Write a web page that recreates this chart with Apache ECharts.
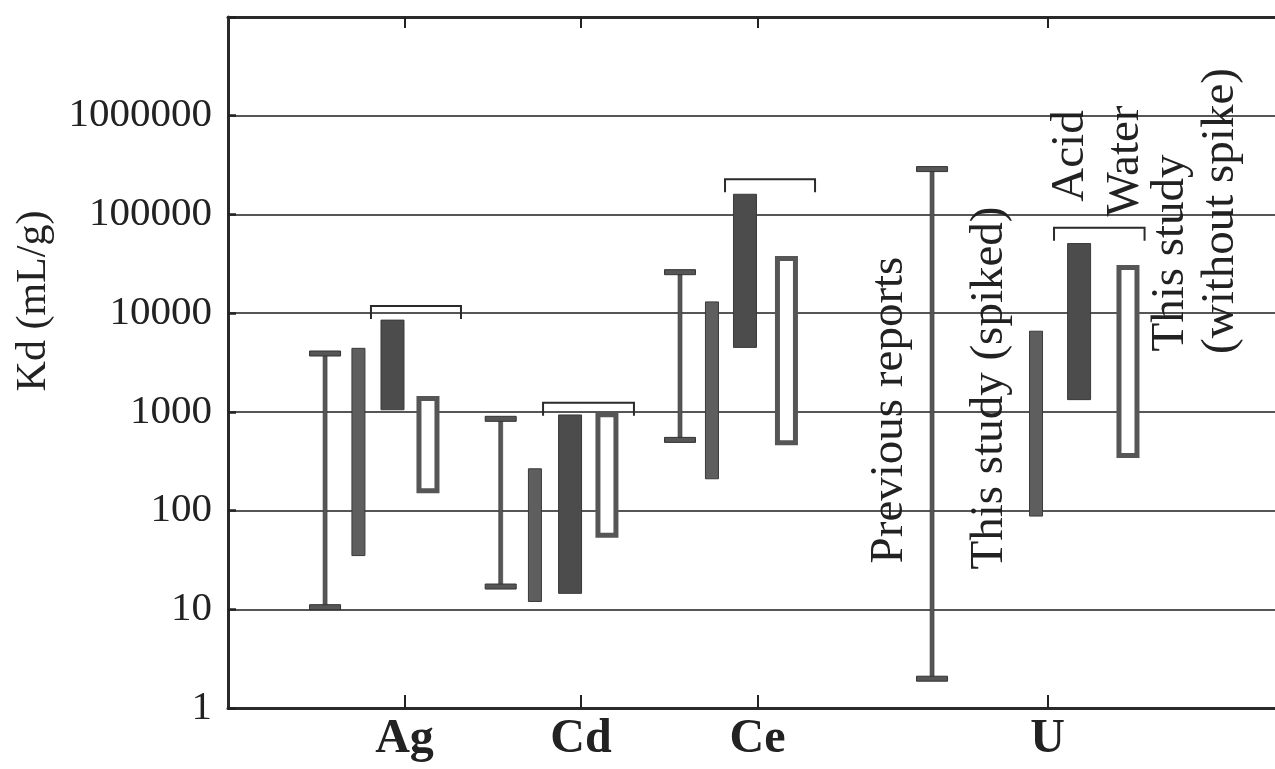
<!DOCTYPE html>
<html><head><meta charset="utf-8">
<script src="https://cdn.jsdelivr.net/npm/echarts@6/dist/echarts.min.js"></script>
<style>html,body{margin:0;padding:0;background:#fff}#c{width:1275px;height:769px}</style>
</head><body><div id="c"></div>
<script>
// ---- data ----
const categories = ['Ag', 'Cd', 'Ce', 'U'];
const categoryPos = [1, 2, 3, 4.643];

const prevX    = [0.55, 1.545, 2.561, 3.989];
const prevLow  = [10.5, 17, 520, 1.98];
const prevHigh = [3900, 850, 26000, 288000];

const spikedX    = [0.739, 1.739, 2.742, 4.578];
const spikedLow  = [35, 12, 210, 88];
const spikedHigh = [4400, 265, 13000, 6560];

const acidX    = [0.932, 1.938, 2.929, 4.822];
const acidLow  = [1050, 14.5, 4500, 1330];
const acidHigh = [8500, 930, 160000, 50700];

const waterX    = [1.133, 2.147, 3.164, 5.099];
const waterLow  = [150, 53, 460, 340];
const waterHigh = [1450, 990, 38000, 30700];

const bracketStart = [0.810, 1.785, 2.816, 4.680];
const bracketEnd   = [1.320, 2.300, 3.326, 5.193];
const bracketLevel = [11800, 1240, 227000, 73400];

const yLabelMax = 1000000;

// ---- helpers ----
const rows = (xs, lo, hi) => xs.map((x, i) => [x, lo[i], hi[i]]);
const FONT = '"Liberation Serif", "Times New Roman", serif';
const DARK = '#565656';

function errorBar(params, api) {
  const x = api.value(0);
  const pLo = api.coord([x, api.value(1)]);
  const pHi = api.coord([x, api.value(2)]);
  const capW = 31, capH = 5, stemW = 4;
  return { type: 'group', children: [
    { type: 'rect', shape: { x: pLo[0] - stemW / 2, y: pHi[1], width: stemW, height: pLo[1] - pHi[1] }, style: { fill: DARK, stroke: '#3a3a3a', lineWidth: 0.6 } },
    { type: 'rect', shape: { x: pHi[0] - capW / 2, y: pHi[1] - capH / 2, width: capW, height: capH }, style: { fill: DARK, stroke: '#333', lineWidth: 1 } },
    { type: 'rect', shape: { x: pLo[0] - capW / 2, y: pLo[1] - capH / 2, width: capW, height: capH }, style: { fill: DARK, stroke: '#333', lineWidth: 1 } }
  ]};
}
function solidBar(w, fill) {
  return function (params, api) {
    const x = api.value(0);
    const pLo = api.coord([x, api.value(1)]);
    const pHi = api.coord([x, api.value(2)]);
    return { type: 'rect', shape: { x: pLo[0] - w / 2, y: pHi[1], width: w, height: pLo[1] - pHi[1] }, style: { fill: fill, stroke: '#3a3a3a', lineWidth: 1 } };
  };
}
function hollowBar(params, api) {
  const x = api.value(0);
  const pLo = api.coord([x, api.value(1)]);
  const pHi = api.coord([x, api.value(2)]);
  const w = 23, lw = 5;
  return { type: 'rect', shape: { x: pLo[0] - w / 2 + lw / 2, y: pHi[1] + lw / 2, width: w - lw, height: pLo[1] - pHi[1] - lw }, style: { fill: '#fff', stroke: DARK, lineWidth: lw } };
}
function bracket(params, api) {
  const a = api.coord([api.value(0), api.value(2)]);
  const b = api.coord([api.value(1), api.value(2)]);
  const t = 13;
  return { type: 'polyline', shape: { points: [[a[0], a[1] + t], [a[0], a[1]], [b[0], b[1]], [b[0], b[1] + t]] }, style: { fill: null, stroke: '#2a2a2a', lineWidth: 2 } };
}
const catName = v => { for (let i = 0; i < categoryPos.length; i++) if (Math.abs(categoryPos[i] - v) < 1e-6) return categories[i]; return ''; };

const chart = echarts.init(document.getElementById('c'), null, { renderer: 'canvas' });
const xBase = { type: 'value', min: 0, max: 5.932, splitLine: { show: false } };
chart.setOption({
  animation: false,
  backgroundColor: '#fff',
  grid: { left: 228, right: 0, top: 17, bottom: 61 },
  xAxis: [
    Object.assign({}, xBase, {
      position: 'bottom',
      axisLine: { show: true, onZero: false, lineStyle: { color: '#2a2a2a', width: 3 } },
      axisTick: { show: true, inside: true, length: 13, customValues: categoryPos, lineStyle: { color: '#222', width: 2 } },
      axisLabel: { customValues: categoryPos, formatter: catName, fontFamily: FONT, fontWeight: 'bold', fontSize: 48, color: '#222', margin: 8 }
    }),
    Object.assign({}, xBase, {
      position: 'top',
      axisLine: { show: true, onZero: false, lineStyle: { color: '#2a2a2a', width: 3 } },
      axisTick: { show: true, inside: true, length: 11, customValues: categoryPos, lineStyle: { color: '#222', width: 2 } },
      axisLabel: { show: false }
    })
  ],
  yAxis: {
    type: 'log', logBase: 10, min: 1, max: 10000000,
    axisLine: { show: true, lineStyle: { color: '#2a2a2a', width: 3 } },
    axisTick: { show: true, inside: true, length: 8, lineStyle: { color: '#222', width: 2.5 } },
    minorTick: { show: false },
    splitLine: { show: true, lineStyle: { color: '#1e1e1e', width: 1.6 } },
    axisLabel: { formatter: v => (Math.round(v) > yLabelMax ? '' : String(Math.round(v))), fontFamily: FONT, fontSize: 41, color: '#222', margin: 16 }
  },
  graphic: [
    { type: 'text', x: 34, y: 301, rotation: Math.PI / 2, style: { text: 'Kd (mL/g)', font: '42px ' + FONT, fill: '#222', align: 'center', verticalAlign: 'middle' } },
    { type: 'text', x: 890, y: 410, rotation: Math.PI / 2, style: { text: 'Previous reports', font: '47px ' + FONT, fill: '#222', align: 'center', verticalAlign: 'middle' } },
    { type: 'text', x: 990, y: 388, rotation: Math.PI / 2, style: { text: 'This study (spiked)', font: '47px ' + FONT, fill: '#222', align: 'center', verticalAlign: 'middle' } },
    { type: 'text', x: 1071, y: 156, rotation: Math.PI / 2, style: { text: 'Acid', font: '47px ' + FONT, fill: '#222', align: 'center', verticalAlign: 'middle' } },
    { type: 'text', x: 1126, y: 161, rotation: Math.PI / 2, style: { text: 'Water', font: '47px ' + FONT, fill: '#222', align: 'center', verticalAlign: 'middle' } },
    { type: 'text', x: 1171, y: 253, rotation: Math.PI / 2, style: { text: 'This study', font: '47px ' + FONT, fill: '#222', align: 'center', verticalAlign: 'middle' } },
    { type: 'text', x: 1221, y: 211, rotation: Math.PI / 2, style: { text: '(without spike)', font: '47px ' + FONT, fill: '#222', align: 'center', verticalAlign: 'middle' } }
  ],
  series: [
    { name: 'Previous reports', type: 'custom', renderItem: errorBar, encode: { x: 0, y: [1, 2] }, data: rows(prevX, prevLow, prevHigh), z: 3 },
    { name: 'This study (spiked)', type: 'custom', renderItem: solidBar(13, '#5e5e5e'), encode: { x: 0, y: [1, 2] }, data: rows(spikedX, spikedLow, spikedHigh), z: 3 },
    { name: 'Acid', type: 'custom', renderItem: solidBar(23, '#4c4c4c'), encode: { x: 0, y: [1, 2] }, data: rows(acidX, acidLow, acidHigh), z: 3 },
    { name: 'Water', type: 'custom', renderItem: hollowBar, encode: { x: 0, y: [1, 2] }, data: rows(waterX, waterLow, waterHigh), z: 3 },
    { name: 'Bracket', type: 'custom', renderItem: bracket, encode: { x: [0, 1], y: 2 }, data: rows(bracketStart, bracketEnd, bracketLevel), z: 3 }
  ]
});
</script></body></html>
